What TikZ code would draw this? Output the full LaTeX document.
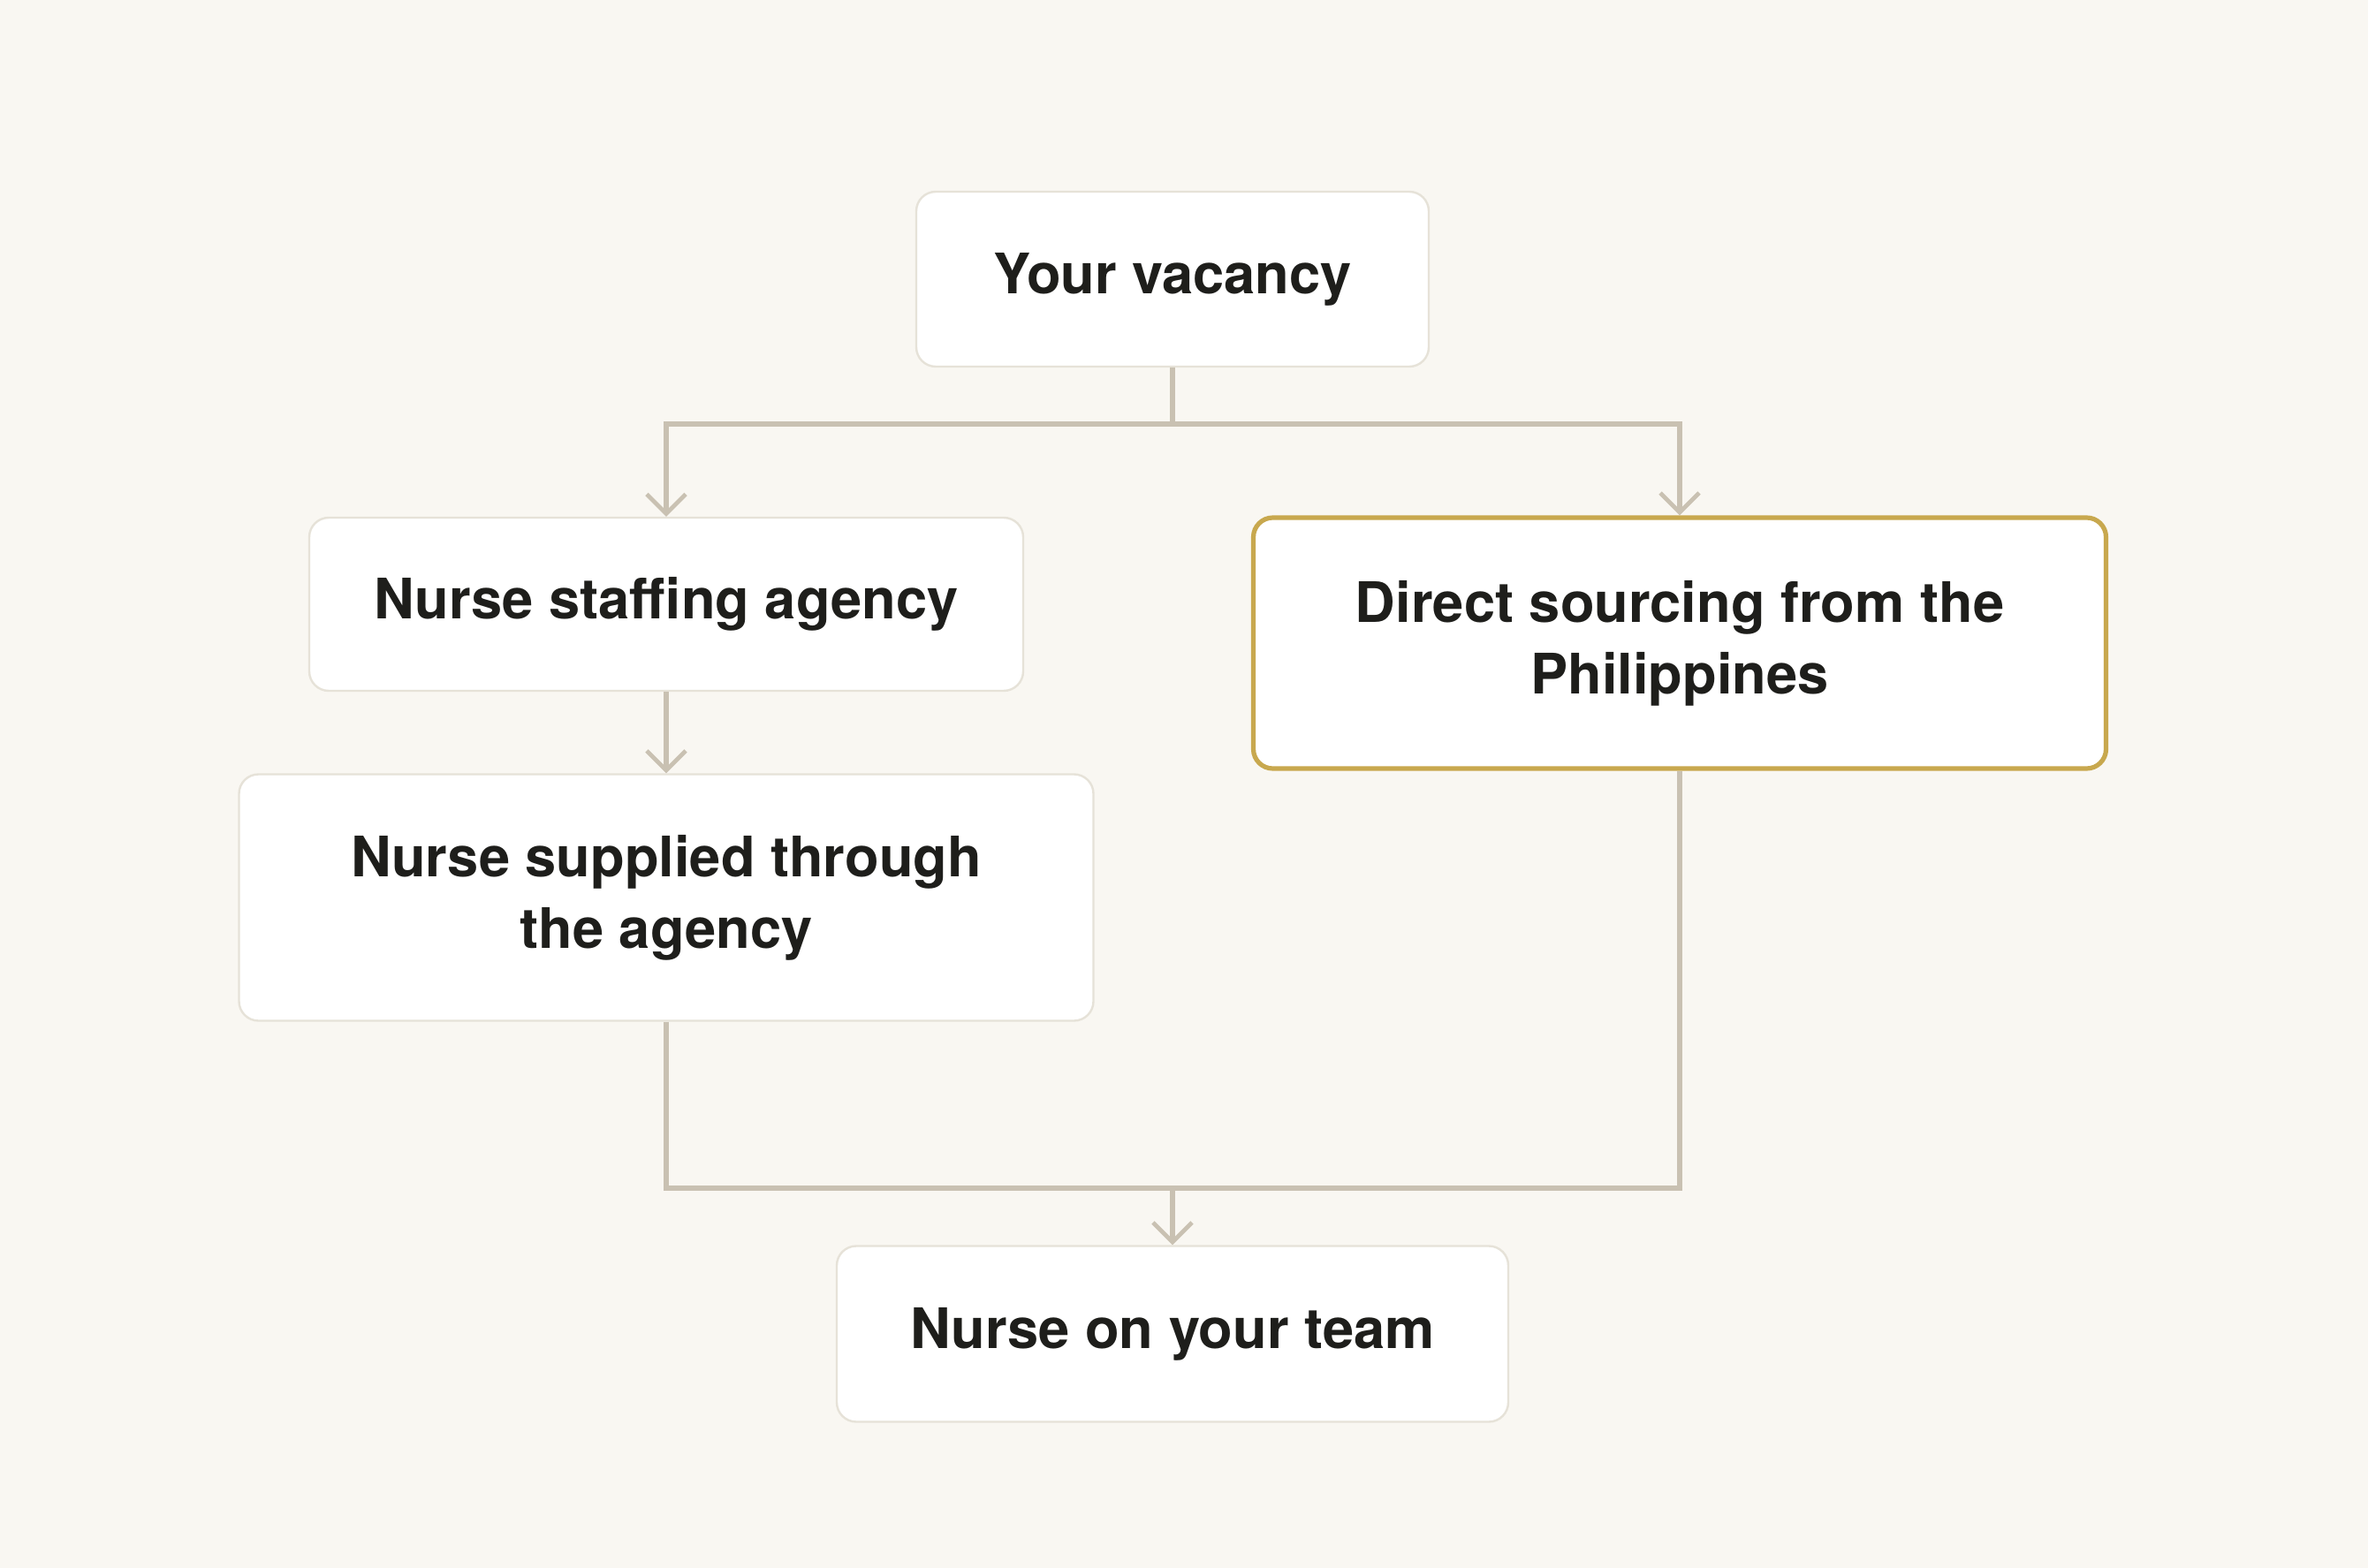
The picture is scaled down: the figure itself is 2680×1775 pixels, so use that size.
\documentclass[tikz,border=0pt]{standalone}
\usepackage{fontspec}
\setmainfont{TeX Gyre Heros}
\usetikzlibrary{arrows.meta}
\definecolor{bgcol}{HTML}{F9F7F2}
\definecolor{boxline}{HTML}{E6E2D8}
\definecolor{goldline}{HTML}{C8A84E}
\definecolor{conncol}{HTML}{C9C1B2}
\definecolor{ink}{HTML}{1E1E1B}
\begin{document}
\begin{tikzpicture}[x=0.5pt,y=-0.5pt,
  box/.style={draw=boxline, line width=1.2pt, fill=white, rounded corners=11pt,
    inner sep=0pt, font=\fontsize{31.6}{40.5}\selectfont\bfseries, text=ink, align=center},
  goldbox/.style={box, draw=goldline, line width=2.6pt},
  connline/.style={draw=conncol, line width=2.8pt},
  arrline/.style={connline, -{Straight Barb[length=11pt,width=22pt,line width=2.4pt]}}
]
\fill[bgcol] (0,0) rectangle (2680,1775);
\useasboundingbox (0,0) rectangle (2680,1775);

\node[box, minimum width=290pt, minimum height=99pt] (vac) at (1327,316) {Your vacancy};
\node[box, minimum width=404pt, minimum height=98pt] (staff) at (754,684) {Nurse staffing agency};
\node[box, minimum width=483.5pt, minimum height=139.5pt] (supp) at (754,1016) {Nurse supplied through\\the agency};
\node[goldbox, minimum width=482.5pt, minimum height=142pt] (direct) at (1901,728) {Direct sourcing from the\\Philippines};
\node[box, minimum width=380pt, minimum height=99.5pt] (team) at (1327,1510) {Nurse on your team};

\coordinate (j1) at (1327,480);
\coordinate (j2) at (1327,1345);

\draw[connline] (vac.south) -- (j1);
\draw[arrline] (j1) -| (staff.north);
\draw[arrline] (j1) -| (direct.north);
\draw[arrline] (staff.south) -- (supp.north);
\draw[connline] (supp.south) |- (j2);
\draw[connline] (direct.south) |- (j2);
\draw[arrline] (j2) -- (team.north);
\end{tikzpicture}
\end{document}
